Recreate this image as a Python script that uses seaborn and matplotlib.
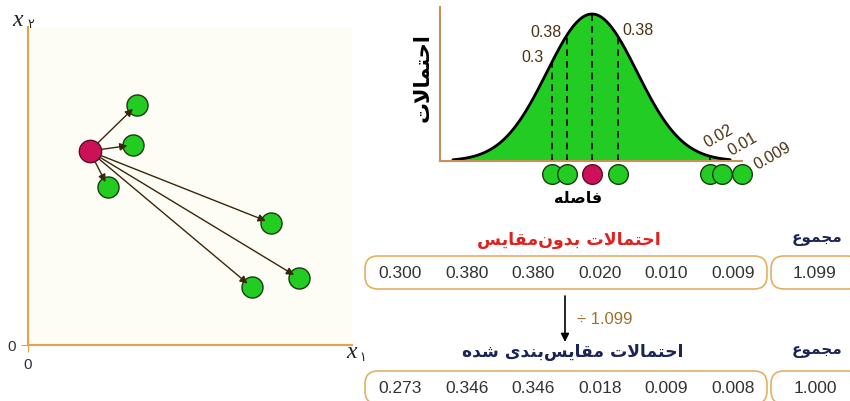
import numpy as np
import pandas as pd
import matplotlib
matplotlib.use("Agg")
import matplotlib.pyplot as plt
from matplotlib.patches import FancyBboxPatch
import seaborn as sns

# --- data ---------------------------------------------------------------
center_pt = (1.9, 6.10)
neighbor_x = [3.36, 3.24, 2.47, 7.50, 8.36, 6.91]
neighbor_y = [7.55, 6.29, 4.97, 3.84, 2.11, 1.82]

# neighbour positions along the distance axis (sigma units), red point at 0
dist_pos = [-0.89, -0.56, 0.58, 2.62, 2.89, 3.33]
curve_labels = [0.3, 0.38, 0.38, 0.02, 0.01, 0.009]

raw_probs = [0.300, 0.380, 0.380, 0.020, 0.010, 0.009]
raw_sum = 1.099
scaled_probs = [0.273, 0.346, 0.346, 0.018, 0.009, 0.008]
scaled_sum = 1.000

GREEN = "#22cc22"
RED = "#cc1158"
EDGE = "#1c3a12"
ORANGE = "#e8a04a"
BROWN = "#c8915a"
BOX = "#e2b060"
NAVY = "#1a2456"
TXT = "#333333"
LBL = "#4a3212"

# --- persian shaping (matplotlib has no bidi/shaping) -------------------
FORMS = {  # isolated, final, initial, medial
    "ا": ("\uFE8D", "\uFE8E", None, None),
    "ب": ("\uFE8F", "\uFE90", "\uFE91", "\uFE92"),
    "ت": ("\uFE95", "\uFE96", "\uFE97", "\uFE98"),
    "ج": ("\uFE9D", "\uFE9E", "\uFE9F", "\uFEA0"),
    "ح": ("\uFEA1", "\uFEA2", "\uFEA3", "\uFEA4"),
    "د": ("\uFEA9", "\uFEAA", None, None),
    "س": ("\uFEB1", "\uFEB2", "\uFEB3", "\uFEB4"),
    "ش": ("\uFEB5", "\uFEB6", "\uFEB7", "\uFEB8"),
    "ص": ("\uFEB9", "\uFEBA", "\uFEBB", "\uFEBC"),
    "ع": ("\uFEC9", "\uFECA", "\uFECB", "\uFECC"),
    "ف": ("\uFED1", "\uFED2", "\uFED3", "\uFED4"),
    "ق": ("\uFED5", "\uFED6", "\uFED7", "\uFED8"),
    "ل": ("\uFEDD", "\uFEDE", "\uFEDF", "\uFEE0"),
    "م": ("\uFEE1", "\uFEE2", "\uFEE3", "\uFEE4"),
    "ن": ("\uFEE5", "\uFEE6", "\uFEE7", "\uFEE8"),
    "ه": ("\uFEE9", "\uFEEA", "\uFEEB", "\uFEEC"),
    "و": ("\uFEED", "\uFEEE", None, None),
    "ی": ("\uFBFC", "\uFBFD", "\uFBFE", "\uFBFF"),
}


def shape_fa(text):
    out = []
    i = 0
    n = len(text)
    while i < n:
        c = text[i]
        if c not in FORMS:
            if c != "\u200c":
                out.append(c)
            i += 1
            continue
        prev = text[i - 1] if i > 0 else ""
        joins_prev = prev in FORMS and FORMS[prev][2] is not None
        if c == "ل" and i + 1 < n and text[i + 1] == "ا":
            out.append("\uFEFC" if joins_prev else "\uFEFB")
            i += 2
            continue
        nxt = text[i + 1] if i + 1 < n else ""
        joins_next = FORMS[c][2] is not None and nxt in FORMS
        iso, fin, ini, med = FORMS[c]
        if joins_prev and joins_next:
            out.append(med)
        elif joins_prev:
            out.append(fin)
        elif joins_next:
            out.append(ini)
        else:
            out.append(iso)
        i += 1
    return "".join(out)[::-1]


sns.set_style("white")
plt.rcParams["font.family"] = ["Liberation Sans", "DejaVu Sans"]

W, H = 850, 402
fig = plt.figure(figsize=(W / 100, H / 100), dpi=100)

# --- left panel: points in input space ------------------------------------
ax_l = fig.add_axes([28 / W, 1 - 346 / H, 324 / W, 318 / H])
ax_l.set_facecolor("#fdfdf6")
df_nb = pd.DataFrame({"x": neighbor_x, "y": neighbor_y})
sns.scatterplot(data=df_nb, x="x", y="y", s=230, color=GREEN, edgecolor=EDGE,
                linewidth=1, ax=ax_l, zorder=2)
for nx, ny in zip(neighbor_x, neighbor_y):
    ax_l.annotate("", xy=(nx, ny), xytext=center_pt, zorder=3,
                  arrowprops=dict(arrowstyle="-|>", color="#3a2608", lw=1,
                                  shrinkA=7, shrinkB=4, mutation_scale=11))
sns.scatterplot(x=[center_pt[0]], y=[center_pt[1]], s=260, color=RED,
                edgecolor="#5a1020", linewidth=1, ax=ax_l, zorder=4)
ax_l.set_xlim(0, 10)
ax_l.set_ylim(0, 10)
ax_l.set_xticks([0])
ax_l.set_yticks([0])
ax_l.tick_params(length=5, color=ORANGE, labelsize=11, labelcolor=TXT,
                 left=True, bottom=True)
ax_l.set_xlabel("")
ax_l.set_ylabel("")
for side in ["top", "right"]:
    ax_l.spines[side].set_visible(False)
for side in ["left", "bottom"]:
    ax_l.spines[side].set_color(ORANGE)
    ax_l.spines[side].set_linewidth(1.5)

# --- right panel: gaussian over distance --------------------------------
ax_r = fig.add_axes([440 / W, 1 - 162 / H, 302 / W, 154 / H])
ax_r.set_facecolor("none")
xs = np.linspace(-3.09, 3.07, 300)
curve = np.exp(-xs ** 2 / 2)
ax_r.fill_between(xs, curve, color=GREEN, lw=0)
sns.lineplot(x=xs, y=curve, color="black", lw=2, ax=ax_r)
for d in dist_pos:
    h = np.exp(-d ** 2 / 2)
    ax_r.plot([d, d], [0, h], color="black", lw=1.2, ls=(0, (4, 3)))
sns.scatterplot(x=dist_pos, y=[-0.088] * len(dist_pos), s=200, color=GREEN,
                edgecolor=EDGE, linewidth=1, ax=ax_r, clip_on=False, zorder=5)
sns.scatterplot(x=[0], y=[-0.088], s=200, color=RED, edgecolor="#5a1020",
                linewidth=1, ax=ax_r, clip_on=False, zorder=5)
ax_r.plot([0, 0], [0, 1], color="black", lw=1.2, ls=(0, (4, 3)))

# label offsets in points (layout only)
lab_off = [(-6, 4, "right", 0), (-15, 3, "center", 0), (3, 5, "left", 0),
           (6, 15, "center", 30), (15, 11, "center", 30), (22, 4, "center", 30)]
for d, v, (dx, dy, ha, rot) in zip(dist_pos, curve_labels, lab_off):
    h = np.exp(-d ** 2 / 2)
    ax_r.annotate(f"{v:g}", xy=(d, h), xytext=(dx, dy), textcoords="offset points",
                  ha=ha, va="center", rotation=rot, rotation_mode="anchor",
                  fontsize=11.5, color=LBL, annotation_clip=False)
ax_r.set_xlim((440 - 592) / 45, (742 - 592) / 45)
ax_r.set_ylim(0, (162 - 8) / 147)
ax_r.set_xticks([])
ax_r.set_yticks([])
for side in ["top", "right"]:
    ax_r.spines[side].set_visible(False)
for side in ["left", "bottom"]:
    ax_r.spines[side].set_color(BROWN)
    ax_r.spines[side].set_linewidth(1.5)

# --- overlay in pixel coordinates for text and boxes -----------------------
ov = fig.add_axes([0, 0, 1, 1], zorder=10)
ov.set_xlim(0, W)
ov.set_ylim(H, 0)
ov.axis("off")
ov.patch.set_alpha(0)

ov.text(18, 20, "x", fontsize=17, family="Liberation Serif", style="italic",
        ha="center", va="center", color="#222222")
ov.text(31, 25, "۲", fontsize=9, family="DejaVu Sans", ha="center", va="center", color="#222222")
ov.text(352, 353, "x", fontsize=17, family="Liberation Serif", style="italic",
        ha="center", va="center", color="#222222")
ov.text(363, 358, "۱", fontsize=9, family="DejaVu Sans", ha="center", va="center", color="#222222")

ov.text(423, 78, shape_fa("احتمالات"), rotation=90, fontsize=15, weight="bold",
        family="DejaVu Sans", ha="center", va="center", color="black")
ov.text(578, 199, shape_fa("فاصله"), fontsize=11.5, weight="bold",
        family="DejaVu Sans", ha="center", va="center", color="black")

ov.text(569, 240, shape_fa("احتمالات بدون\u200cمقایس"), fontsize=12.5, weight="bold",
        family="DejaVu Sans", ha="center", va="center", color="#e0201e")
ov.text(573, 352, shape_fa("احتمالات مقایس\u200cبندی شده"), fontsize=12.3, weight="bold",
        family="DejaVu Sans", ha="center", va="center", color=NAVY)
for yy in [239, 351]:
    ov.text(817, yy, shape_fa("مجموع"), fontsize=11, weight="bold",
            family="DejaVu Sans", ha="center", va="center", color=NAVY)


def prob_row(y0, values, total):
    ov.add_patch(FancyBboxPatch((365, y0), 402, 33, boxstyle="round,pad=0,rounding_size=13",
                                fc="white", ec=BOX, lw=1.2))
    ov.add_patch(FancyBboxPatch((771, y0), 90, 33, boxstyle="round,pad=0,rounding_size=13",
                                fc="white", ec=BOX, lw=1.2, clip_on=False))
    for k, v in enumerate(values):
        ov.text(400 + 66.6 * k, y0 + 16.5, f"{v:.3f}", fontsize=12.5, color=TXT,
                ha="center", va="center")
    ov.text(815, y0 + 16.5, f"{total:.3f}", fontsize=12.5, color=TXT, ha="center", va="center")


prob_row(257, raw_probs, raw_sum)
prob_row(372, scaled_probs, scaled_sum)

ov.annotate("", xy=(565, 343), xytext=(565, 297),
            arrowprops=dict(arrowstyle="-|>", color="black", lw=1.2, mutation_scale=12,
                            shrinkA=0, shrinkB=0))
ov.text(577, 320, f"÷ {raw_sum:.3f}", fontsize=12, color="#a0702a", ha="left", va="center")

fig.savefig("out.png", dpi=100, facecolor="white")
